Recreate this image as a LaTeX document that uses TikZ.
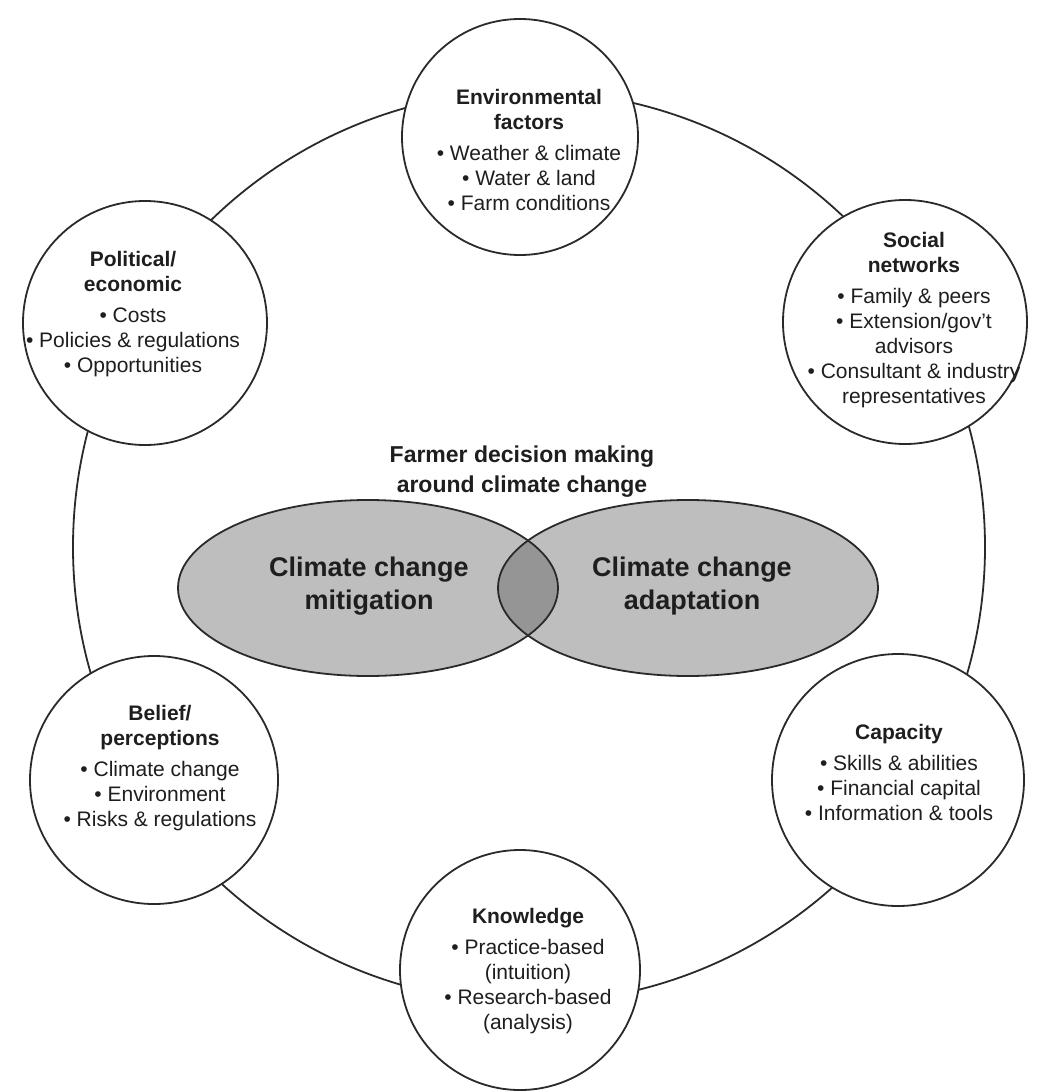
\documentclass[tikz,border=0pt]{standalone}
\usepackage{fontspec}
\setmainfont{Liberation Sans}
\definecolor{linecol}{HTML}{2A2A2A}
\definecolor{textcol}{HTML}{1E1E1E}
\definecolor{lightfill}{HTML}{BEBEBE}
\definecolor{lensfill}{HTML}{959595}
\begin{document}
\begin{tikzpicture}[x=0.5pt,y=-0.5pt,
  ring/.style={circle, draw=linecol, line width=0.9pt, inner sep=0pt, outer sep=0pt},
  factor/.style={circle, draw=linecol, line width=0.9pt, fill=white, inner sep=0pt, outer sep=0pt},
  factortext/.style={align=center, text=textcol, inner sep=0pt,
    font=\fontsize{10.5}{12.5}\selectfont},
  hub/.style={align=center, text=textcol, inner sep=0pt,
    font=\fontsize{11.5}{15}\selectfont\bfseries},
  lobe/.style={draw=linecol, line width=0.9pt},
  lobetext/.style={align=center, text=textcol, inner sep=0pt,
    font=\fontsize{13.5}{16.5}\selectfont\bfseries}
]
\useasboundingbox (0,0) rectangle (1037,1092);

% outer ring linking the six factors
\node[ring, minimum size=456pt] (ringc) at (529,547) {};

% factor circles
\node[factor, minimum size=118pt] (env)  at (520,137) {};
\node[factor, minimum size=122pt] (pol)  at (145,323) {};
\node[factor, minimum size=122pt] (soc)  at (905,322) {};
\node[factor, minimum size=124pt] (bel)  at (154,780) {};
\node[factor, minimum size=126pt] (cap)  at (898,780) {};
\node[factor, minimum size=120pt] (know) at (520,970) {};

% factor labels
\node[factortext] (envtxt) at (529,150)
  {{\bfseries Environmental}\\{\bfseries factors}\\[3pt]
   • Weather \& climate\\• Water \& land\\• Farm conditions};
\node[factortext] (poltxt) at (133,314)
  {{\bfseries Political/}\\{\bfseries economic}\\[3pt]
   • Costs\\• Policies \& regulations\\• Opportunities};
\node[factortext] (soctxt) at (914,320)
  {{\bfseries Social}\\{\bfseries networks}\\[3pt]
   • Family \& peers\\• Extension/gov't\\advisors\\• Consultant \& industry\\representatives};
\node[factortext] (beltxt) at (160,768)
  {{\bfseries Belief/}\\{\bfseries perceptions}\\[3pt]
   • Climate change\\• Environment\\• Risks \& regulations};
\node[factortext] (captxt) at (899,772)
  {{\bfseries Capacity}\\[3pt]
   • Skills \& abilities\\• Financial capital\\• Information \& tools};
\node[factortext] (knowtxt) at (528,971)
  {{\bfseries Knowledge}\\[3pt]
   • Practice-based\\(intuition)\\• Research-based\\(analysis)};

% central decision
\node[hub] (hubtxt) at (522,472) {Farmer decision making\\around climate change};

% overlapping mitigation / adaptation lobes
\fill[lightfill] (368,588) ellipse [x radius=95pt, y radius=44pt];
\fill[lightfill] (688,588) ellipse [x radius=95pt, y radius=44pt];
\begin{scope}
  \clip (368,588) ellipse [x radius=95pt, y radius=44pt];
  \fill[lensfill] (688,588) ellipse [x radius=95pt, y radius=44pt];
\end{scope}
\draw[lobe] (368,588) ellipse [x radius=95pt, y radius=44pt];
\draw[lobe] (688,588) ellipse [x radius=95pt, y radius=44pt];
\node[lobetext] (mitig) at (369,586) {Climate change\\mitigation};
\node[lobetext] (adapt) at (692,586) {Climate change\\adaptation};
\end{tikzpicture}
\end{document}
